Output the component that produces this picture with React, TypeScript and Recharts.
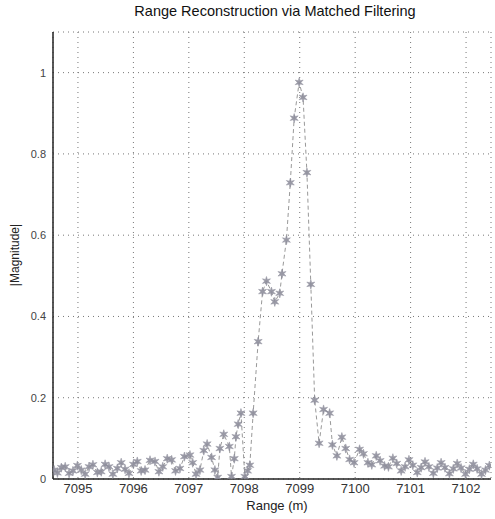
import React from 'react';
import { LineChart, Line, XAxis, YAxis, CartesianGrid } from 'recharts';

const rangeValues = [
  7094.57, 7094.63, 7094.70, 7094.77, 7094.84, 7094.91, 7094.99, 7095.06, 7095.13, 7095.20,
  7095.27, 7095.35, 7095.42, 7095.49, 7095.56, 7095.63, 7095.71, 7095.78, 7095.85, 7095.92,
  7096.00, 7096.07, 7096.14, 7096.21, 7096.30, 7096.39, 7096.46, 7096.53, 7096.61, 7096.69,
  7096.76, 7096.84, 7096.92, 7097.02, 7097.07, 7097.13, 7097.20, 7097.27, 7097.33, 7097.41,
  7097.47, 7097.52, 7097.56, 7097.63, 7097.73, 7097.77, 7097.82, 7097.85, 7097.89, 7097.94,
  7098.01, 7098.06, 7098.10, 7098.16, 7098.25, 7098.33, 7098.40, 7098.49, 7098.55, 7098.64,
  7098.68, 7098.76, 7098.83, 7098.90, 7098.99, 7099.06, 7099.13, 7099.20, 7099.27, 7099.35,
  7099.43, 7099.54, 7099.59, 7099.67, 7099.76, 7099.83, 7099.90, 7099.98, 7100.08, 7100.15,
  7100.23, 7100.30, 7100.38, 7100.45, 7100.53, 7100.60, 7100.68, 7100.75, 7100.83, 7100.90,
  7100.97, 7101.04, 7101.12, 7101.19, 7101.26, 7101.33, 7101.41, 7101.48, 7101.55, 7101.62,
  7101.70, 7101.77, 7101.84, 7101.91, 7101.99, 7102.06, 7102.13, 7102.20, 7102.28, 7102.35,
  7102.42,
];

const magnitudeValues = [
  0.022, 0.015, 0.028, 0.030, 0.014, 0.020, 0.033, 0.022, 0.012, 0.030,
  0.035, 0.016, 0.018, 0.036, 0.030, 0.012, 0.026, 0.040, 0.024, 0.014,
  0.036, 0.043, 0.020, 0.022, 0.046, 0.043, 0.018, 0.030, 0.050, 0.047,
  0.020, 0.026, 0.055, 0.059, 0.040, 0.012, 0.022, 0.070, 0.086, 0.053,
  0.022, 0.004, 0.075, 0.110, 0.080, 0.006, 0.050, 0.104, 0.135, 0.162,
  0.006, 0.020, 0.034, 0.162, 0.338, 0.461, 0.487, 0.461, 0.436, 0.457,
  0.505, 0.588, 0.729, 0.888, 0.976, 0.939, 0.754, 0.479, 0.194, 0.088,
  0.171, 0.162, 0.084, 0.057, 0.103, 0.075, 0.048, 0.040, 0.073, 0.062,
  0.040, 0.035, 0.057, 0.045, 0.032, 0.030, 0.051, 0.038, 0.020, 0.030,
  0.047, 0.034, 0.016, 0.028, 0.042, 0.030, 0.014, 0.027, 0.040, 0.028,
  0.013, 0.025, 0.038, 0.027, 0.012, 0.024, 0.036, 0.025, 0.012, 0.022,
  0.033,
];

const xTicks = [7095, 7096, 7097, 7098, 7099, 7100, 7101, 7102];
const yTicks = [0, 0.2, 0.4, 0.6, 0.8, 1];

const data = rangeValues.map((x, i) => ({ x, y: magnitudeValues[i] }));

const StarDot = (props: any) => {
  const { cx, cy } = props;
  if (cx == null || cy == null) return null;
  const pts: string[] = [];
  const n = 6;
  for (let i = 0; i < n * 2; i++) {
    const r = i % 2 === 0 ? 4.6 : 1.8;
    const a = (Math.PI * i) / n - Math.PI / 2;
    pts.push(`${cx + r * Math.cos(a)},${cy + r * Math.sin(a)}`);
  }
  return <polygon points={pts.join(' ')} fill="#8e8e9c" stroke="#8e8e9c" strokeWidth={0.6} opacity={0.9} />;
};

const font = '"Liberation Sans", Arial, sans-serif';

export default function App() {
  return (
    <div style={{ position: 'absolute', left: 0, top: 0, width: 495, height: 519, background: '#fff', fontFamily: font }}>
      <LineChart width={495} height={519} data={data} margin={{ top: 32, right: 4, bottom: 0, left: 0 }}>
        <CartesianGrid stroke="#777" strokeDasharray="1 4" />
        <XAxis
          dataKey="x"
          type="number"
          domain={[7094.55, 7102.45]}
          ticks={xTicks}
          allowDataOverflow
          height={40}
          tickLine={false}
          tickSize={3}
          axisLine={{ stroke: '#222', strokeWidth: 1.5 }}
          tick={{ fill: '#333', fontSize: 13, fontFamily: font }}
        />
        <XAxis xAxisId="top" orientation="top" dataKey="x" type="number" domain={[7094.55, 7102.45]} height={0} tick={false} tickLine={false} axisLine={{ stroke: '#444' }} />
        <YAxis
          type="number"
          domain={[0, 1.1]}
          ticks={yTicks}
          allowDataOverflow
          width={53}
          tickLine={false}
          tickSize={5}
          axisLine={{ stroke: '#222', strokeWidth: 1.5 }}
          tick={{ fill: '#444', fontSize: 11, fontFamily: font }}
        />
        <YAxis yAxisId="right" orientation="right" type="number" domain={[0, 1.1]} width={0} tick={false} tickLine={false} axisLine={{ stroke: '#444' }} />
        <Line
          type="linear"
          dataKey="y"
          stroke="#999"
          strokeWidth={1}
          strokeDasharray="4 3"
          dot={<StarDot />}
          activeDot={false}
          isAnimationActive={false}
        />
      </LineChart>
      <div style={{ position: 'absolute', left: 0, width: 550, top: 3, textAlign: 'center', fontSize: 14.5, color: '#111', whiteSpace: 'nowrap' }}>
        Range Reconstruction via Matched Filtering
      </div>
      <div style={{ position: 'absolute', left: 0, width: 554, top: 498, textAlign: 'center', fontSize: 13, color: '#222', whiteSpace: 'nowrap' }}>
        Range (m)
      </div>
      <div style={{ position: 'absolute', left: 15, top: 255, transform: 'translate(-50%, -50%) rotate(-90deg)', fontSize: 12, color: '#222', whiteSpace: 'nowrap' }}>
        |Magnitude|
      </div>
    </div>
  );
}
